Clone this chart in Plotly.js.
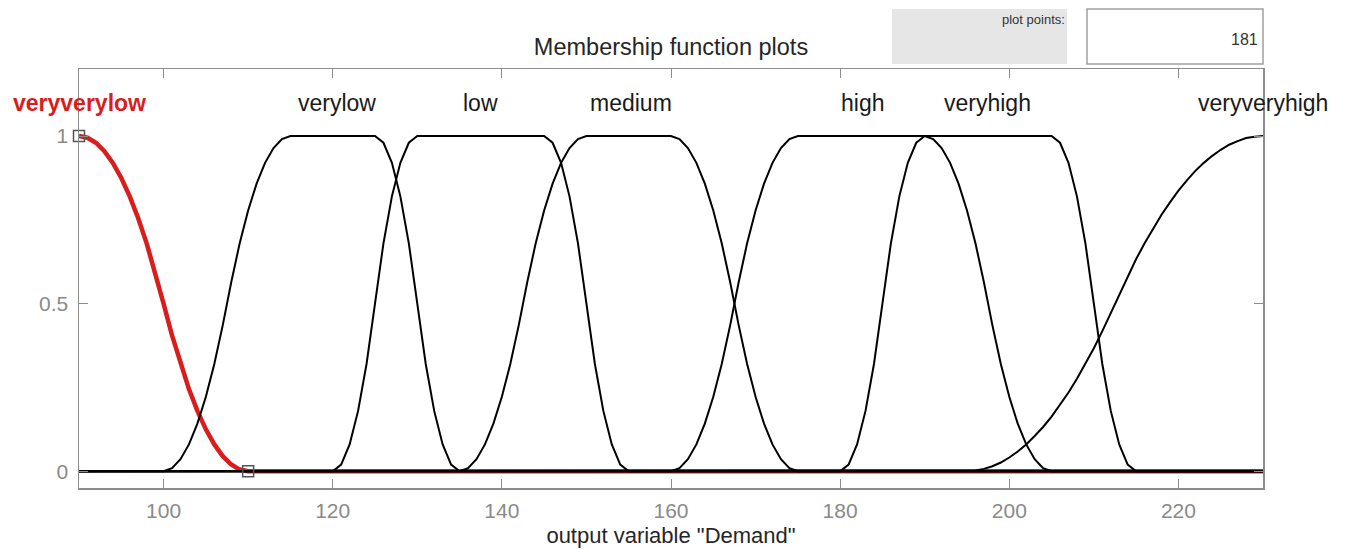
<!DOCTYPE html>
<html>
<head>
<meta charset="utf-8">
<script src="https://cdn.plot.ly/plotly-3.0.1.min.js"></script>
<style>
  html, body { margin: 0; padding: 0; background: #ffffff; }
  #chart { width: 1348px; height: 549px; }
</style>
</head>
<body>
<div id="chart"></div>
<script>
// ---- data (x in output units, y membership) ----
const mfNames = ["veryverylow", "verylow", "low", "medium", "high", "veryhigh", "veryveryhigh"];

// veryverylow: 1 at 90 falling to 0 at 110
const vvlX = [90, 91, 92, 93, 94, 95, 96, 97, 98, 99, 100, 101, 102, 103, 104, 105, 106, 107, 108, 109, 110, 230];
const vvlY = [1, 0.995, 0.98, 0.955, 0.92, 0.875, 0.82, 0.755, 0.68, 0.595, 0.5, 0.405, 0.32, 0.245, 0.18, 0.125, 0.08, 0.045, 0.02, 0.005, 0, 0];

// verylow: rises 100-115, flat to 125, falls to 0 at 135
const vlX = [90, 100, 101, 102, 103, 104, 105, 106, 107, 108, 109, 110, 111, 112, 113, 114, 115, 125, 126, 127, 128, 129, 130, 131, 132, 133, 134, 135, 230];
const vlY = [0, 0, 0.009, 0.036, 0.08, 0.142, 0.222, 0.32, 0.436, 0.564, 0.68, 0.778, 0.858, 0.92, 0.964, 0.991, 1, 1, 0.98, 0.92, 0.82, 0.68, 0.5, 0.32, 0.18, 0.08, 0.02, 0, 0];

// low: rises 120-130, flat to 145, falls to 0 at 155
const lowX = [90, 120, 121, 122, 123, 124, 125, 126, 127, 128, 129, 130, 145, 146, 147, 148, 149, 150, 151, 152, 153, 154, 155, 230];
const lowY = [0, 0, 0.02, 0.08, 0.18, 0.32, 0.5, 0.68, 0.82, 0.92, 0.98, 1, 1, 0.98, 0.92, 0.82, 0.68, 0.5, 0.32, 0.18, 0.08, 0.02, 0, 0];

// medium: rises 135-150, flat to 160, falls to 0 at 175
const medX = [90, 135, 136, 137, 138, 139, 140, 141, 142, 143, 144, 145, 146, 147, 148, 149, 150, 160, 161, 162, 163, 164, 165, 166, 167, 168, 169, 170, 171, 172, 173, 174, 175, 230];
const medY = [0, 0, 0.009, 0.036, 0.08, 0.142, 0.222, 0.32, 0.436, 0.564, 0.68, 0.778, 0.858, 0.92, 0.964, 0.991, 1, 1, 0.991, 0.964, 0.92, 0.858, 0.778, 0.68, 0.564, 0.436, 0.32, 0.222, 0.142, 0.08, 0.036, 0.009, 0, 0];

// high: rises 160-175, flat to 205, falls to 0 at 215
const highX = [90, 160, 161, 162, 163, 164, 165, 166, 167, 168, 169, 170, 171, 172, 173, 174, 175, 205, 206, 207, 208, 209, 210, 211, 212, 213, 214, 215, 230];
const highY = [0, 0, 0.009, 0.036, 0.08, 0.142, 0.222, 0.32, 0.436, 0.564, 0.68, 0.778, 0.858, 0.92, 0.964, 0.991, 1, 1, 0.98, 0.92, 0.82, 0.68, 0.5, 0.32, 0.18, 0.08, 0.02, 0, 0];

// veryhigh: rises 180-190 to a peak, falls to 0 at 205
const vhX = [90, 180, 181, 182, 183, 184, 185, 186, 187, 188, 189, 190, 191, 192, 193, 194, 195, 196, 197, 198, 199, 200, 201, 202, 203, 204, 205, 230];
const vhY = [0, 0, 0.02, 0.08, 0.18, 0.32, 0.5, 0.68, 0.82, 0.92, 0.98, 1, 0.991, 0.964, 0.92, 0.858, 0.778, 0.68, 0.564, 0.436, 0.32, 0.222, 0.142, 0.08, 0.036, 0.009, 0, 0];

// veryveryhigh: rises from 195 to 1 at 230
const vvhX = [90, 195, 196, 197, 198, 199, 200, 201, 202, 203, 204, 205, 206, 207, 208, 209, 210, 211, 212, 213, 214, 215, 216, 217, 218, 219, 220, 221, 222, 223, 224, 225, 226, 227, 228, 229, 230];
const vvhY = [0, 0, 0.002, 0.007, 0.015, 0.026, 0.041, 0.059, 0.08, 0.105, 0.132, 0.163, 0.198, 0.235, 0.276, 0.32, 0.367, 0.418, 0.472, 0.528, 0.582, 0.633, 0.68, 0.724, 0.765, 0.802, 0.837, 0.868, 0.896, 0.92, 0.941, 0.959, 0.974, 0.985, 0.994, 0.998, 1];

// selected-MF handle squares
const handleX = [90, 110];
const handleY = [1, 0];

// label anchor x (data units) and height
const labelX = [90, 120.45, 137.5, 155.3, 182.6, 197.4, 230];
const labelY = 1.1;

const xTicks = [100, 120, 140, 160, 180, 200, 220];
const yTicks = [0, 0.5, 1];
const yTickText = ["0", "0.5", "1"];
const plotPoints = "181";

// ---- traces ----
const blackSeries = [[vlX, vlY], [lowX, lowY], [medX, medY], [highX, highY], [vhX, vhY], [vvhX, vvhY]];
const traces = [];
traces.push({
  x: vvlX, y: vvlY, type: "scatter", mode: "lines",
  line: {color: "#d91c1c", width: 4.5},
  hoverinfo: "skip", showlegend: false
});
blackSeries.forEach(function (s) {
  traces.push({
    x: s[0], y: s[1], type: "scatter", mode: "lines",
    line: {color: "#000000", width: 2},
    hoverinfo: "skip", showlegend: false
  });
});
traces.push({
  x: handleX, y: handleY, type: "scatter", mode: "markers",
  marker: {symbol: "square-open", size: 11, color: "#555555", line: {width: 1.5}},
  cliponaxis: false, hoverinfo: "skip", showlegend: false
});

// ---- layout ----
const L = 79, R = 85, T = 69, B = 61;
const W = 1348, H = 549;
const pw = W - L - R, ph = H - T - B;
function px2x(px) { return (px - L) / pw; }
function py2y(py) { return (H - B - py) / ph; }

const fontFam = "Liberation Sans, Arial, Helvetica, sans-serif";

const annotations = mfNames.map(function (n, i) {
  return {
    x: labelX[i], y: labelY, xref: "x", yref: "y",
    text: i === 0 ? "<b>" + n + "</b>" : n,
    showarrow: false, xanchor: "center", yanchor: "middle",
    font: {family: fontFam, size: 23, color: i === 0 ? "#d91c1c" : "#1a1a1a"}
  };
});
annotations.push({
  x: px2x(1067), y: py2y(20), xref: "paper", yref: "paper",
  text: "plot points:", showarrow: false, xanchor: "right", yanchor: "middle",
  font: {family: fontFam, size: 13, color: "#333333"}
});
annotations.push({
  x: px2x(1260), y: py2y(39), xref: "paper", yref: "paper",
  text: plotPoints, showarrow: false, xanchor: "right", yanchor: "middle",
  font: {family: fontFam, size: 16, color: "#333333"}
});

const layout = {
  width: W, height: H,
  margin: {l: L, r: R, t: T, b: B, pad: 0},
  paper_bgcolor: "#ffffff", plot_bgcolor: "#ffffff",
  font: {family: fontFam},
  title: {
    text: "Membership function plots",
    x: 671 / W, xanchor: "center",
    y: 1 - 47 / H, yanchor: "middle", yref: "container", xref: "container",
    font: {family: fontFam, size: 23.5, color: "#262626"}
  },
  xaxis: {
    range: [90, 230], tickvals: xTicks, ticks: "inside", ticklen: 9, tickwidth: 1,
    tickcolor: "#8c8c8c", showline: true, linecolor: "#8c8c8c", linewidth: 1.5,
    mirror: "ticks", showgrid: false, zeroline: false, fixedrange: true,
    tickfont: {family: fontFam, size: 21, color: "#8a8a8a"},
    ticklabelstandoff: 3,
    title: {text: 'output variable "Demand"', standoff: 7,
            font: {family: fontFam, size: 22, color: "#262626"}}
  },
  yaxis: {
    range: [-0.05, 1.2], tickvals: yTicks, ticktext: yTickText, ticks: "inside", ticklen: 9,
    tickwidth: 1, tickcolor: "#8c8c8c", showline: true, linecolor: "#8c8c8c", linewidth: 1.5,
    mirror: "ticks", showgrid: false, zeroline: false, fixedrange: true,
    tickfont: {family: fontFam, size: 21, color: "#8a8a8a"},
    ticklabelstandoff: 5
  },
  shapes: [
    {type: "rect", xref: "paper", yref: "paper",
     x0: px2x(892), x1: px2x(1067), y0: py2y(64), y1: py2y(9),
     fillcolor: "#e6e6e6", line: {width: 0}, layer: "below"},
    {type: "rect", xref: "paper", yref: "paper",
     x0: px2x(1087), x1: px2x(1263), y0: py2y(64), y1: py2y(9),
     fillcolor: "#ffffff", line: {color: "#a0a0a0", width: 1.5}, layer: "below"}
  ],
  annotations: annotations
};

Plotly.newPlot("chart", traces, layout, {staticPlot: true, displayModeBar: false});
</script>
</body>
</html>
